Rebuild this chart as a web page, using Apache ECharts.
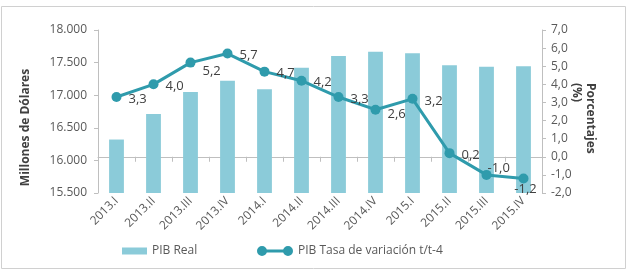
<!DOCTYPE html>
<html>
<head>
<meta charset="utf-8">
<script src="https://cdn.jsdelivr.net/npm/echarts@6/dist/echarts.min.js"></script>
<style>
  html, body { margin: 0; padding: 0; background: #fff; }
  #chart { width: 629px; height: 276px; }
</style>
</head>
<body>
<div id="chart"></div>
<script>
var categories = ['2013.I', '2013.II', '2013.III', '2013.IV', '2014.I', '2014.II', '2014.III', '2014.IV', '2015.I', '2015.II', '2015.III', '2015.IV'];
var pibReal = [16320, 16710, 17050, 17220, 17090, 17420, 17600, 17665, 17645, 17460, 17435, 17445];
var tasaVariacion = [3.3, 4.0, 5.2, 5.7, 4.7, 4.2, 3.3, 2.6, 3.2, 0.2, -1.0, -1.2];

var font = 'Open Sans';
var axisColor = '#bfbfbf';
var textColor = '#595959';
var lineColor = '#2f9bac';

// ajustes de etiquetas como en el original
var labelTweaks = {
  2: { offset: [0, 9] },
  7: { offset: [0, 5] },
  10: { offset: [-11, -7] },
  11: { position: 'bottom', offset: [2, -8] }
};

var lineData = tasaVariacion.map(function (v, i) {
  var item = { value: v };
  if (labelTweaks[i]) item.label = labelTweaks[i];
  return item;
});

// icono de leyenda: línea con dos círculos
var lineIcon = 'path://M0,5A5,5,0,1,1,10,5A5,5,0,1,1,0,5Z M26,5A5,5,0,1,1,36,5A5,5,0,1,1,26,5Z M9,3.5L27,3.5L27,6.5L9,6.5Z';

var chart = echarts.init(document.getElementById('chart'));
var option = {
  animation: false,
  textStyle: { fontFamily: font },
  grid: { left: 98, right: 87, top: 30, bottom: 83 },
  graphic: [
    {
      type: 'rect',
      shape: { x: 1.5, y: 6.5, width: 624, height: 262 },
      style: { fill: 'none', stroke: '#d0d0d0', lineWidth: 1 }
    },
    {
      type: 'text',
      x: 597,
      y: 83,
      rotation: -Math.PI / 2,
      style: {
        text: 'Porcentajes\n(%)',
        fontFamily: font,
        fontSize: 12,
        fontWeight: 'bold',
        fill: '#404040',
        lineHeight: 14
      }
    }
  ],
  legend: [
    {
      bottom: 14,
      left: 117,
      itemWidth: 25,
      itemHeight: 7,
      textStyle: { fontFamily: font, fontSize: 12, color: textColor },
      data: [{ name: 'PIB Real', icon: 'rect' }]
    },
    {
      bottom: 14,
      left: 252,
      itemWidth: 36,
      itemHeight: 10,
      textStyle: { fontFamily: font, fontSize: 12, color: textColor },
      data: [{ name: 'PIB Tasa de variación t/t-4', icon: lineIcon }]
    }
  ],
  xAxis: {
    type: 'category',
    data: categories,
    axisLine: { lineStyle: { color: axisColor } },
    axisTick: { show: true, length: 5, lineStyle: { color: axisColor } },
    axisLabel: { rotate: 45, fontSize: 12, color: textColor, fontFamily: font, margin: 6 }
  },
  yAxis: [
    {
      type: 'value',
      min: 15500,
      max: 18000,
      interval: 500,
      name: 'Millones de Dólares',
      nameLocation: 'middle',
      nameGap: 66,
      nameTextStyle: { fontFamily: font, fontSize: 12, fontWeight: 'bold', color: '#404040', padding: [0, 0, 0, -32] },
      axisLine: { show: true, lineStyle: { color: axisColor } },
      axisTick: { show: true, length: 4, lineStyle: { color: axisColor } },
      splitLine: { show: false },
      axisLabel: {
        fontSize: 12,
        color: textColor,
        fontFamily: font,
        margin: 11,
        formatter: function (v) {
          return String(v).replace(/\B(?=(\d{3})+(?!\d))/g, '.');
        }
      }
    },
    {
      type: 'value',
      min: -2,
      max: 7,
      interval: 1,
      position: 'right',
      axisLine: { show: true, lineStyle: { color: axisColor } },
      axisTick: { show: true, length: 4, lineStyle: { color: axisColor } },
      splitLine: { show: false },
      axisLabel: {
        fontSize: 12,
        color: textColor,
        fontFamily: font,
        margin: 9,
        formatter: function (v) {
          return v.toFixed(1).replace('.', ',');
        }
      }
    }
  ],
  series: [
    {
      name: 'PIB Real',
      type: 'bar',
      data: pibReal,
      barWidth: '40%',
      itemStyle: { color: '#8bcbd9' }
    },
    {
      name: 'PIB Tasa de variación t/t-4',
      type: 'line',
      yAxisIndex: 1,
      data: lineData,
      symbol: 'circle',
      symbolSize: 10,
      lineStyle: { color: lineColor, width: 3 },
      itemStyle: { color: lineColor },
      label: {
        show: true,
        position: 'right',
        distance: 7,
        offset: [0, 2],
        fontFamily: font,
        fontSize: 13,
        color: '#404040',
        formatter: function (p) {
          return p.value.toFixed(1).replace('.', ',');
        }
      }
    }
  ]
};
chart.setOption(option);
</script>
</body>
</html>
